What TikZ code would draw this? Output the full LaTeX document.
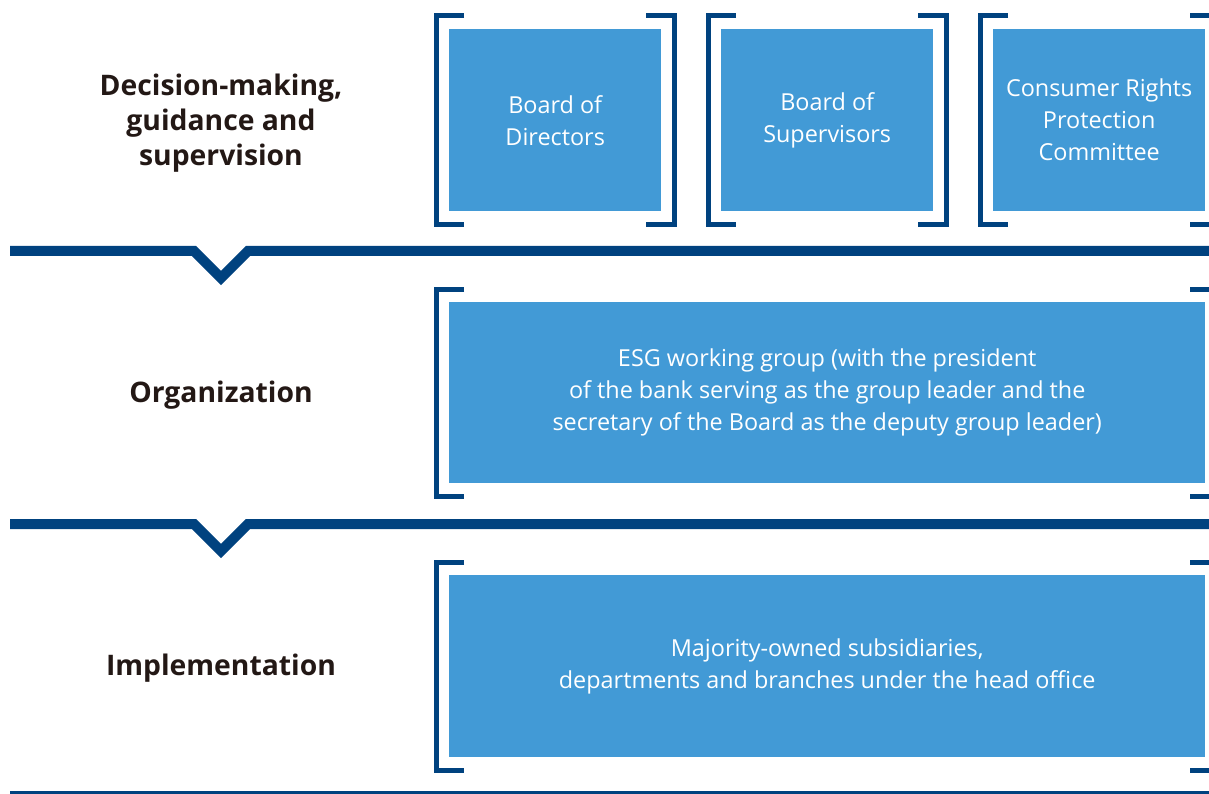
\documentclass[tikz,border=0pt]{standalone}
\usepackage{fontspec}
\setmainfont{Open Sans}
\definecolor{esgnavy}{HTML}{00427F}
\definecolor{esgblue}{HTML}{429AD6}
\definecolor{esgtext}{HTML}{231815}

% square bracket around a box: left side, then right side
\newcommand{\boxbrackets}[1]{%
  \draw[bracket] ([shift={(15pt,13pt)}]#1.north west) -- ++(-28pt,0) -- ([shift={(-13pt,-13pt)}]#1.south west) -- ++(28pt,0);
  \draw[bracket] ([shift={(-15pt,13pt)}]#1.north east) -- ++(28pt,0) -- ([shift={(13pt,-13pt)}]#1.south east) -- ++(-28pt,0);
}

\begin{document}
\begin{tikzpicture}[
  x=1pt, y=-1pt,
  box/.style={rectangle, fill=esgblue, text=white, inner sep=0pt, anchor=north west, align=center, font=\fontsize{23.4}{32}\selectfont},
  stage/.style={text=esgtext, align=center, font=\fontsize{28.3}{35}\selectfont\bfseries},
  bracket/.style={draw=esgnavy, line width=5pt, line join=miter},
  divider/.style={draw=esgnavy, line width=10pt, line join=miter}
]
\useasboundingbox (0,0) rectangle (1209,794);

% stage names
\node[stage] (decision) at (221,123) {Decision-making,\\guidance and\\supervision};
\node[stage] (organization) at (221,395) {Organization};
\node[stage] (implementation) at (221,668) {Implementation};

% decision-making bodies
\node[box, minimum width=212pt, minimum height=182pt] (board) at (449,29) {Board of\\Directors};
\node[box, minimum width=212pt, minimum height=182pt] (supervisors) at (721,29) {Board of\\Supervisors};
\node[box, minimum width=212pt, minimum height=182pt] (consumer) at (993,29) {Consumer Rights\\Protection\\Committee};

% organization and implementation
\node[box, minimum width=756pt, minimum height=181pt] (esggroup) at (449,302) {ESG working group (with the president\\of the bank serving as the group leader and the\\secretary of the Board as the deputy group leader)};
\node[box, minimum width=756pt, minimum height=182pt] (subsidiaries) at (449,575) {Majority-owned subsidiaries,\\departments and branches under the head office};

\boxbrackets{board}
\boxbrackets{supervisors}
\boxbrackets{consumer}
\boxbrackets{esggroup}
\boxbrackets{subsidiaries}

% dividers between stages
\draw[divider] (10,251) -- (194,251) -- (221,278) -- (248,251) -- (1209,251);
\draw[divider] (10,524) -- (194,524) -- (221,551) -- (248,524) -- (1209,524);
\draw[draw=esgnavy, line width=3pt] (10,792.5) -- (1209,792.5);
\end{tikzpicture}
\end{document}
